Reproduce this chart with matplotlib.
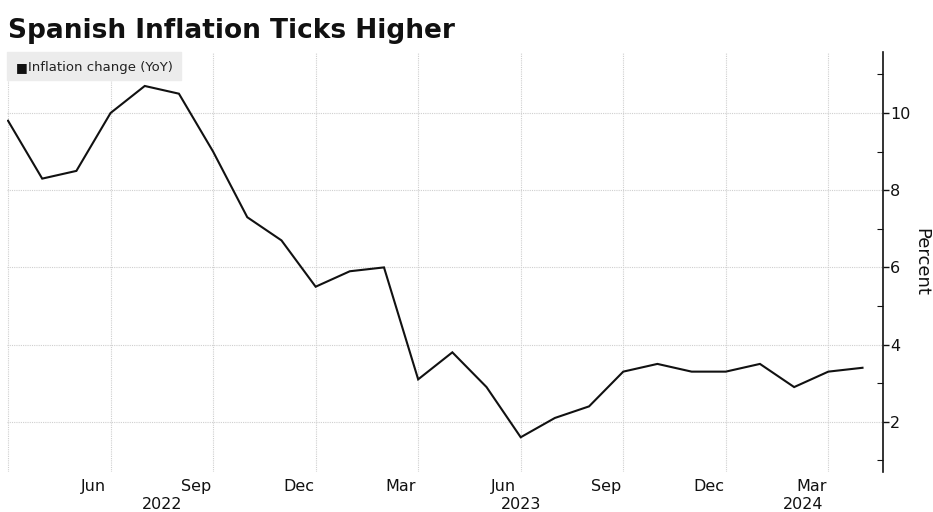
import matplotlib.pyplot as plt
from matplotlib.ticker import MultipleLocator

# Monthly YoY inflation, Mar 2022 .. Apr 2024
months = ["Mar 22", "Apr 22", "May 22", "Jun 22", "Jul 22", "Aug 22", "Sep 22",
          "Oct 22", "Nov 22", "Dec 22", "Jan 23", "Feb 23", "Mar 23", "Apr 23",
          "May 23", "Jun 23", "Jul 23", "Aug 23", "Sep 23", "Oct 23", "Nov 23",
          "Dec 23", "Jan 24", "Feb 24", "Mar 24", "Apr 24"]
inflation = [9.8, 8.3, 8.5, 10.0, 10.7, 10.5, 9.0, 7.3, 6.7, 5.5, 5.9, 6.0,
             3.1, 3.8, 2.9, 1.6, 2.1, 2.4, 3.3, 3.5, 3.3, 3.3, 3.5, 2.9, 3.3, 3.4]

tick_months = ["Jun", "Sep", "Dec", "Mar", "Jun", "Sep", "Dec", "Mar"]
tick_index = [3, 6, 9, 12, 15, 18, 21, 24]
year_labels = ["2022", "2023", "2024"]
year_pos = [4.5, 15.0, 23.25]

fig = plt.figure(figsize=(9.33, 5.12), dpi=100)
ax = fig.add_axes([7 / 933, 40 / 512, 876 / 933, 420 / 512])

x = list(range(len(inflation)))
ax.plot(x, inflation, color="#111111", lw=1.5, solid_joinstyle="miter")

ax.set_xlim(-0.03, 25.6)
ax.set_ylim(0.7, 11.58)

# grid
for t in [0] + tick_index:
    ax.axvline(t, color="#cfcfcf", lw=0.8, ls=(0, (1, 1)), zorder=0)
for v in [2, 4, 6, 8, 10]:
    ax.axhline(v, color="#cfcfcf", lw=0.8, ls=(0, (1, 1)), zorder=0)

for s in ["left", "top", "bottom"]:
    ax.spines[s].set_visible(False)
ax.spines["right"].set_color("#111111")
ax.spines["right"].set_linewidth(1.2)

ax.yaxis.tick_right()
ax.yaxis.set_major_locator(MultipleLocator(2))
ax.yaxis.set_minor_locator(MultipleLocator(1))
ax.set_yticks([2, 4, 6, 8, 10])
ax.tick_params(axis="y", which="major", direction="out", length=4, width=1,
               labelsize=11.5, pad=1, colors="#111111")
ax.tick_params(axis="y", which="minor", direction="in", length=4, width=0.8,
               colors="#111111")
ax.yaxis.set_label_position("right")
ax.set_ylabel("Percent", rotation=270, fontsize=13, labelpad=14, color="#111111")

ax.set_xticks([])
for t, lab in zip(tick_index, tick_months):
    ax.text(t - 0.5, -0.035, lab, transform=ax.get_xaxis_transform(),
            ha="center", va="center", fontsize=11.5, color="#111111")
for p, lab in zip(year_pos, year_labels):
    ax.text(p, -0.078, lab, transform=ax.get_xaxis_transform(),
            ha="center", va="center", fontsize=11.5, color="#111111")

# legend box
fig.patches.append(plt.Rectangle((7 / 933, 1 - 80 / 512), 174 / 933, 28 / 512,
                                 transform=fig.transFigure, color="#ececec",
                                 zorder=0))
fig.text(16 / 933, 1 - 68 / 512, "\u25a0", fontsize=9, color="#111111",
         va="center", ha="left")
fig.text(28 / 933, 1 - 68 / 512, "Inflation change (YoY)", fontsize=9.5,
         color="#222222", va="center", ha="left")

fig.text(8 / 933, 1 - 31 / 512, "Spanish Inflation Ticks Higher", fontsize=19,
         fontweight="bold", va="center", ha="left", color="#111111")

fig.savefig("out.png", dpi=100, facecolor="white")
